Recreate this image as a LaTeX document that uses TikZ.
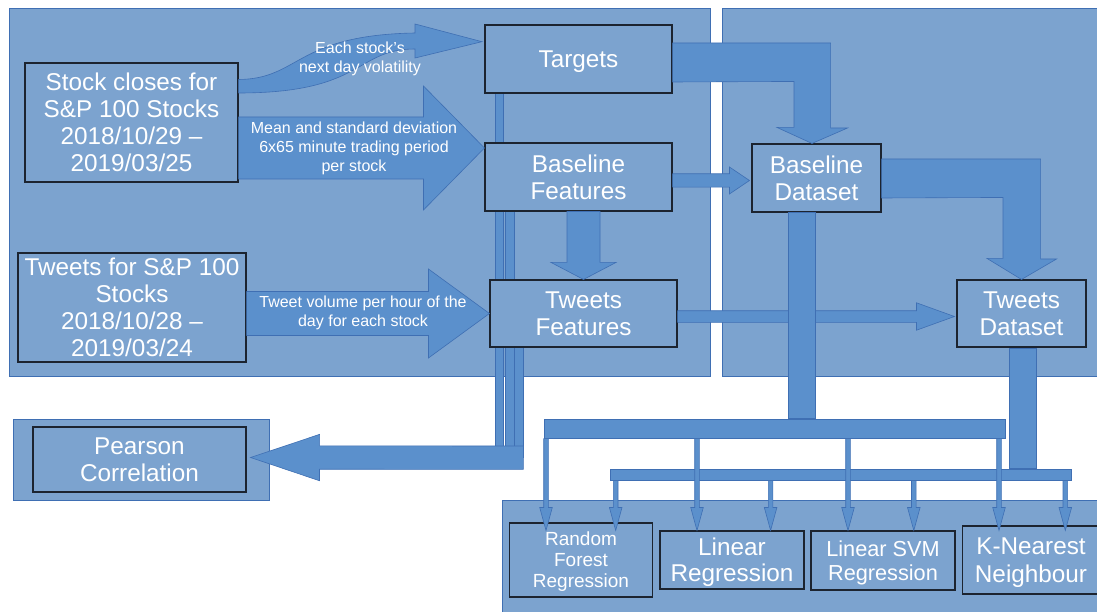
\documentclass[tikz,border=0pt]{standalone}
\usepackage{fontspec}
\setmainfont{Liberation Sans}
\usetikzlibrary{calc}

\definecolor{panelblue}{HTML}{7CA3CF}
\definecolor{arrowblue}{HTML}{5B90CC}
\definecolor{edgeblue}{HTML}{3F6FB3}
\definecolor{boxline}{HTML}{1C2430}

\newcommand{\bigfont}{\fontsize{24.3pt}{27pt}\selectfont}
\newcommand{\notefont}{\fontsize{16pt}{19pt}\selectfont}

% block arrow: start, tip, half shaft, half head, head length
\newcommand{\blockarrow}[5]{%
  \path #1 coordinate (ba-s) #2 coordinate (ba-e);
  \path ($(ba-e)!#5!(ba-s)$) coordinate (ba-h);
  \filldraw[arrowshape] ($(ba-s)!#3!90:(ba-e)$) -- ($(ba-h)!#3!90:(ba-e)$)
    -- ($(ba-h)!#4!90:(ba-e)$) -- (ba-e) -- ($(ba-h)!#4!-90:(ba-e)$)
    -- ($(ba-h)!#3!-90:(ba-e)$) -- ($(ba-s)!#3!-90:(ba-e)$) -- cycle;
}

\pgfdeclarelayer{back}
\pgfdeclarelayer{mid}
\pgfsetlayers{back,mid,main}

\begin{document}
\begin{tikzpicture}[x=1pt,y=-1pt,
    panel/.style={fill=panelblue, draw=edgeblue, line width=0.8pt},
    box/.style={draw=boxline, line width=1.1pt, fill=panelblue, text=white,
      align=center, inner sep=0pt, font=\bigfont},
    arrowshape/.style={fill=arrowblue, draw=edgeblue, line width=0.6pt},
    note/.style={text=white, align=center, font=\notefont}]
  \useasboundingbox (0,0) rectangle (1097,612);

  % panels
  \begin{pgfonlayer}{back}
    \filldraw[panel] (9,8) rectangle (710,376);
    \filldraw[panel] (722,8) rectangle (1105,376);
    \filldraw[panel] (13,419) rectangle (269.5,500);
    \filldraw[panel] (502,500) rectangle (1105,620);
  \end{pgfonlayer}

  % inputs
  \node[box, minimum width=213pt, minimum height=119pt] (stock) at (131.5,122.5)
    {Stock closes for\\S\&P 100 Stocks\\2018/10/29 –\\2019/03/25};
  \node[box, minimum width=228pt, minimum height=109pt] (tweets) at (132,307.5)
    {Tweets for S\&P 100\\Stocks\\2018/10/28 –\\2019/03/24};

  % features
  \node[box, minimum width=187pt, minimum height=68pt, text depth=0pt] (targets) at (578.5,59) {Targets};
  \node[box, minimum width=187pt, minimum height=68pt] (basef) at (578.5,177) {Baseline\\Features};
  \node[box, minimum width=187pt, minimum height=67pt] (tweetf) at (583.5,313.5) {Tweets\\Features};

  % datasets
  \node[box, minimum width=129pt, minimum height=68pt] (based) at (816.5,178) {Baseline\\Dataset};
  \node[box, minimum width=129pt, minimum height=67pt] (tweetd) at (1021.5,313.5) {Tweets\\Dataset};

  % outputs
  \node[box, minimum width=213pt, minimum height=65pt] (pearson) at (139.5,459.5) {Pearson\\Correlation};
  \node[box, minimum width=143pt, minimum height=74pt, text depth=0pt, font=\fontsize{19pt}{21pt}\selectfont] (rf) at (581,560)
    {Random\\Forest\\Regression};
  \node[box, minimum width=144pt, minimum height=58pt, text depth=0pt, font=\fontsize{24.3pt}{26pt}\selectfont] (linreg) at (732,560)
    {Linear\\Regression};
  \node[box, minimum width=144pt, minimum height=59pt, text depth=0pt, font=\fontsize{21.7pt}{23.7pt}\selectfont] (svm) at (883,560.5)
    {Linear SVM\\Regression};
  \node[box, minimum width=137pt, minimum height=68pt, text depth=0pt, font=\fontsize{24.3pt}{27.6pt}\selectfont] (knn) at (1031,560)
    {K-Nearest\\Neighbour};

  % stems into the correlation arrow
  \coordinate (merge) at (523.3,457.7);
  \begin{pgfonlayer}{mid}
    \filldraw[arrowshape] (495.3,0 |- targets.south) rectangle (503.7,0 |- merge);
    \filldraw[arrowshape] (505,0 |- basef.south) rectangle (514,0 |- merge);
    \filldraw[arrowshape] (514.7,0 |- tweetf.south) rectangle (523.3,0 |- merge);
  \end{pgfonlayer}
  \blockarrow{(merge)}{($(pearson.east)+(4,-2)$)}{11.7pt}{23.2pt}{69pt}

  % stock closes -> targets
  \filldraw[arrowshape] ($(stock.east)+(0,-43)$) .. controls (300,79) and (295,35) .. (415,33)
    -- (415,24) -- ($(targets.west)+(-2.5,-17.3)$) -- (415,58) -- (415,49)
    .. controls (355,49) and (365,93) .. ($(stock.east)+(0,-29.5)$) -- cycle;
  \node[note] (volnote) at (360,59) {Each stock’s\\next day volatility};

  % stock closes -> baseline features
  \coordinate (basetip) at ($(basef.west)+(0,-29)$);
  \blockarrow{(stock.east |- basetip)}{(basetip)}{31pt}{62pt}{61pt}
  \node[note] (basenote) at (354,148) {Mean and standard deviation\\6x65 minute trading period\\per stock};

  % tweets -> tweets features
  \blockarrow{(tweets.east |- tweetf.west)}{(tweetf.west)}{22pt}{44.5pt}{61pt}
  \node[note] (tweetnote) at (363,312.5) {Tweet volume per hour of the\\day for each stock};

  % features -> datasets
  \blockarrow{($(basef.east)+(0,3.5)$)}{($(based.west)+(-2,2.5)$)}{6.7pt}{13.5pt}{20pt}
  \blockarrow{(tweetf.north |- basef.south)}{(tweetf.north)}{16.5pt}{32.5pt}{17pt}
  \blockarrow{($(tweetf.east)+(0,3)$)}{($(tweetd.west)+(-2,3)$)}{5.8pt}{13.7pt}{38pt}
  \filldraw[arrowshape] ($(targets.east)+(0,-16)$) -- ++(158,0) -- ++(0,85) -- ++(17,0)
    -- ($(based.north)+(-4.5,0)$) -- ++(-35,-16) -- ++(17,0) -- ++(0,-46)
    -- ($(targets.east)+(0,23)$) -- cycle;
  \filldraw[arrowshape] ($(based.east)+(0,-19)$) -- ++(159,0) -- ++(0,100) -- ++(16,0)
    -- (tweetd.north) -- ++(-34.5,-21) -- ++(16,0) -- ++(0,-61)
    -- ($(based.east)+(0,20)$) -- cycle;

  % datasets -> models
  \node[arrowshape, minimum width=460.5pt, minimum height=19.3pt, inner sep=0pt] (bar1) at (774.75,428.65) {};
  \node[arrowshape, minimum width=461pt, minimum height=11.3pt, inner sep=0pt] (bar2) at (840.5,474.65) {};
  \filldraw[arrowshape] ($(based.south)+(-28.5,0)$) rectangle ($(based.south |- bar1.north)+(-1.5,0)$);
  \filldraw[arrowshape] ($(tweetd.south)+(-12.5,1)$) rectangle ($(tweetd.south |- bar2.north)+(15,0)$);
  \foreach \x in {615.7,770.6,913.8,1065.3}{
    \blockarrow{(\x,0 |- bar2.south)}{(\x,0 |- linreg.north)}{2.3pt}{6.3pt}{23pt}
  }
  \foreach \x in {546,697,848,999}{
    \blockarrow{(\x,0 |- bar1.south)}{(\x,0 |- linreg.north)}{2.3pt}{6.3pt}{23pt}
  }
\end{tikzpicture}
\end{document}
